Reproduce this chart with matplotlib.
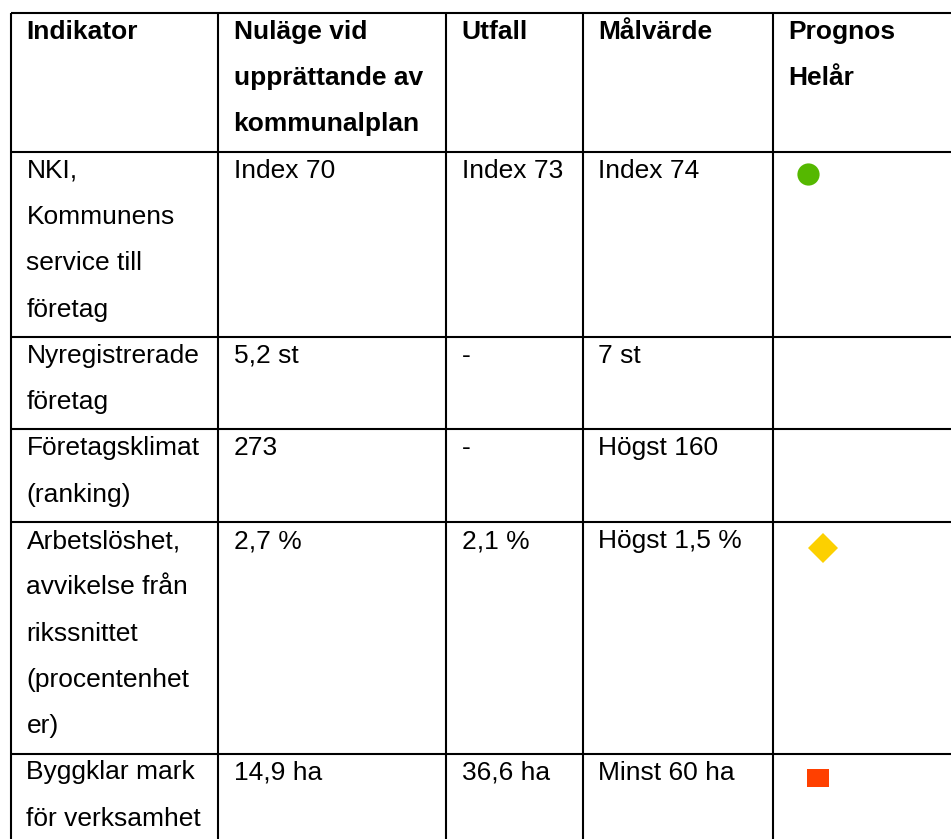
import matplotlib
matplotlib.use("Agg")
import matplotlib.pyplot as plt

# table content
headers = [
    ["Indikator"],
    ["Nuläge vid", "upprättande av", "kommunalplan"],
    ["Utfall"],
    ["Målvärde"],
    ["Prognos", "Helår"],
]
indikator = [
    ["NKI,", "Kommunens", "service till", "företag"],
    ["Nyregistrerade", "företag"],
    ["Företagsklimat", "(ranking)"],
    ["Arbetslöshet,", "avvikelse från", "rikssnittet", "(procentenhet", "er)"],
    ["Byggklar mark", "för verksamhet"],
]
nulage = ["Index 70", "5,2 st", "273", "2,7 %", "14,9 ha"]
utfall = ["Index 73", "-", "-", "2,1 %", "36,6 ha"]
malvarde = ["Index 74", "7 st", "Högst 160", "Högst 1,5 %", "Minst 60 ha"]
prognos = ["green", "", "", "yellow", "red"]

# layout in pixels
W, H = 951, 839
col_x = [11, 218, 446, 583, 773, W]
top = 12.7
line_h = 46.3
pad_x = 15.5
first_base = 26

status_style = {
    "green": dict(marker="o", color="#55B800", ms=16, dx=35, dy=22),
    "yellow": dict(marker="D", color="#FCD000", ms=15, dx=50, dy=26),
    "red": dict(marker=[(-1, -0.78), (1, -0.78), (1, 0.78), (-1, 0.78)],
                color="#FF4000", ms=16.5, dx=45, dy=24),
}

plt.rcParams["font.family"] = ["Liberation Sans", "DejaVu Sans"]

fig = plt.figure(figsize=(W / 100, H / 100), dpi=100)
ax = fig.add_axes([0, 0, 1, 1])
ax.set_xlim(0, W)
ax.set_ylim(H, 0)
ax.axis("off")

rows = [headers] + [
    [indikator[i], [nulage[i]], [utfall[i]], [malvarde[i]], []]
    for i in range(len(indikator))
]

y = top
row_tops = []
for r, cells in enumerate(rows):
    row_tops.append(y)
    n = max(len(c) for c in cells)
    for c, lines in enumerate(cells):
        for k, txt in enumerate(lines):
            ax.text(col_x[c] + pad_x, y + first_base + k * line_h, txt,
                    fontsize=19, va="baseline", ha="left",
                    fontweight="bold" if r == 0 else "normal", color="black")
    y += n * line_h

# status markers
for i, s in enumerate(prognos):
    if not s:
        continue
    st = status_style[s]
    ax.plot(col_x[4] + st["dx"], row_tops[i + 1] + st["dy"],
            marker=st["marker"], color=st["color"], ms=st["ms"],
            markeredgewidth=0, linestyle="none")

# grid lines
lw = 1.5
for yy in row_tops:
    ax.plot([col_x[0], W], [yy, yy], color="black", lw=lw, solid_capstyle="butt")
for xx in col_x[:-1]:
    ax.plot([xx, xx], [top, H], color="black", lw=lw, solid_capstyle="butt")

fig.savefig("out.png", dpi=100)
